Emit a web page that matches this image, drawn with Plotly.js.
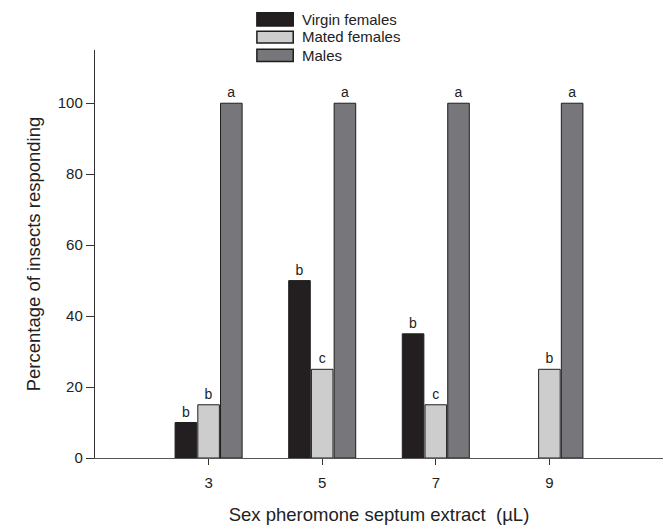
<!DOCTYPE html>
<html>
<head>
<meta charset="utf-8">
<script src="https://cdn.plot.ly/plotly-3.0.1.min.js"></script>
<style>
html, body { margin: 0; padding: 0; background: #fff; }
#chart { width: 670px; height: 525px; }
</style>
</head>
<body>
<div id="chart"></div>
<script>
// Data
var doses = [3, 5, 7, 9];
var virginFemales = [10, 50, 35, 0];
var matedFemales = [15, 25, 15, 25];
var males = [100, 100, 100, 100];
var virginLetters = ["b", "b", "b", ""];
var matedLetters = ["b", "c", "c", "b"];
var maleLetters = ["a", "a", "a", "a"];
var seriesNames = ["Virgin females", "Mated females", "Males"];
var seriesColors = ["#231f20", "#cdcdcd", "#77777b"];

var FONT = "'Liberation Sans', Arial, Helvetica, sans-serif";
var textColor = "#222222";

function barTrace(name, values, letters, color) {
  return {
    type: "bar",
    name: name,
    x: doses,
    y: values,
    text: letters,
    textposition: "outside",
    textfont: { family: FONT, size: 14, color: textColor },
    cliponaxis: false,
    marker: {
      color: color,
      line: { color: "#1e1e1e", width: values.map(function (v) { return v > 0 ? 1 : 0; }) }
    },
    showlegend: false,
    hoverinfo: "x+y+name"
  };
}

var data = [
  barTrace(seriesNames[0], virginFemales, virginLetters, seriesColors[0]),
  barTrace(seriesNames[1], matedFemales, matedLetters, seriesColors[1]),
  barTrace(seriesNames[2], males, maleLetters, seriesColors[2])
];

// Legend drawn as boxes + labels above the plot
var legendShapes = [];
var legendAnnotations = [];
var legendBoxY = [[1.059, 1.091], [1.017, 1.046], [0.972, 1.002]];
var legendTextY = [1.075, 1.032, 0.987];
for (var i = 0; i < seriesNames.length; i++) {
  legendShapes.push({
    type: "rect", xref: "paper", yref: "paper",
    x0: 0.285, x1: 0.349, y0: legendBoxY[i][0], y1: legendBoxY[i][1],
    fillcolor: seriesColors[i], line: { color: "#1e1e1e", width: 1.5 }
  });
  legendAnnotations.push({
    xref: "paper", yref: "paper", x: 0.361, y: legendTextY[i],
    xanchor: "left", yanchor: "middle", showarrow: false,
    text: seriesNames[i],
    font: { family: FONT, size: 15, color: textColor }
  });
}

var layout = {
  width: 670,
  height: 525,
  margin: { l: 95, r: 7, t: 50, b: 67 },
  paper_bgcolor: "#ffffff",
  plot_bgcolor: "#ffffff",
  font: { family: FONT, color: textColor },
  barmode: "group",
  bargap: 0.40,
  bargroupgap: 0.05,
  xaxis: {
    range: [1, 11],
    tickvals: doses,
    ticktext: doses.map(String),
    ticks: "outside",
    ticklen: 6,
    tickcolor: "#333333",
    ticklabelstandoff: 5,
    showline: true,
    linecolor: "#555555",
    linewidth: 1.2,
    showgrid: false,
    zeroline: false,
    tickfont: { family: FONT, size: 15, color: textColor },
    title: {
      text: "Sex pheromone septum extract  (µL)",
      font: { family: FONT, size: 18.5, color: textColor },
      standoff: 18
    }
  },
  yaxis: {
    range: [0, 115],
    tickvals: [0, 20, 40, 60, 80, 100],
    ticks: "outside",
    ticklen: 8,
    tickcolor: "#333333",
    showline: true,
    linecolor: "#333333",
    linewidth: 1.2,
    showgrid: false,
    zeroline: false,
    tickfont: { family: FONT, size: 15, color: textColor },
    title: {
      text: "Percentage of insects responding",
      font: { family: FONT, size: 18.5, color: textColor },
      standoff: 12
    }
  },
  shapes: legendShapes,
  annotations: legendAnnotations
};

Plotly.newPlot("chart", data, layout, { displayModeBar: false, staticPlot: true });
</script>
</body>
</html>
